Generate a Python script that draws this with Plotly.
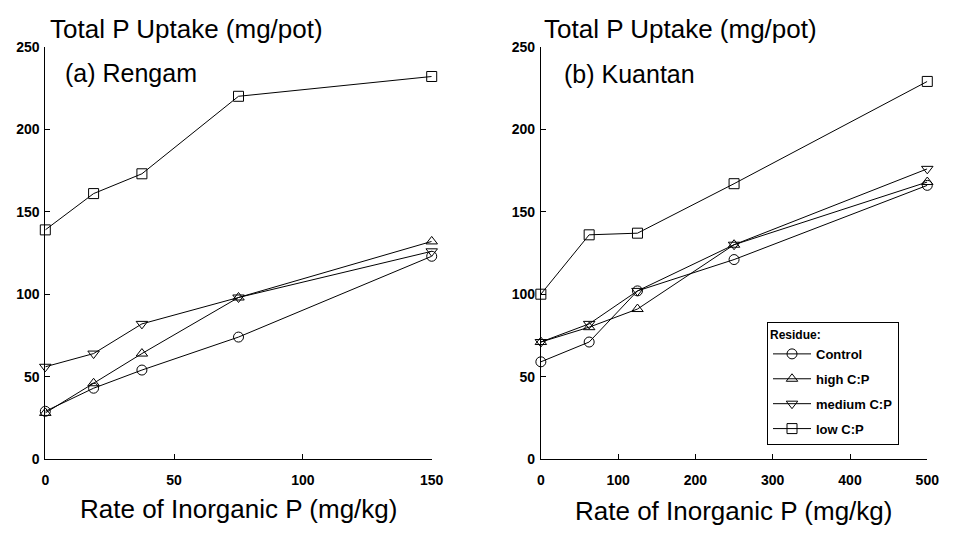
import plotly.graph_objects as go

# Data
series_names = ["Control", "high C:P", "medium C:P", "low C:P"]
symbols = ["circle-open", "triangle-up-open", "triangle-down-open", "square-open"]

rengam_x = [0, 18.75, 37.5, 75, 150]
rengam_control = [29, 43, 54, 74, 123]
rengam_high = [28, 46, 64, 98, 132]
rengam_medium = [56, 64, 82, 98, 126]
rengam_low = [139, 161, 173, 220, 232]

kuantan_x = [0, 62.5, 125, 250, 500]
kuantan_control = [59, 71, 102, 121, 166]
kuantan_high = [71, 80, 91, 130, 168]
kuantan_medium = [71, 82, 102, 130, 176]
kuantan_low = [100, 136, 137, 167, 229]

x_ticks_a = [0, 50, 100, 150]
x_ticks_b = [0, 100, 200, 300, 400, 500]
y_ticks = [0, 50, 100, 150, 200, 250]

FONT = "Liberation Sans, Arial, sans-serif"

fig = go.Figure()

rengam = [rengam_control, rengam_high, rengam_medium, rengam_low]
kuantan = [kuantan_control, kuantan_high, kuantan_medium, kuantan_low]

for name, sym, ys in zip(series_names, symbols, rengam):
    fig.add_trace(go.Scatter(
        x=rengam_x, y=ys, mode="lines+markers", name=name, legendgroup=name,
        line=dict(color="black", width=1),
        marker=dict(symbol=sym, size=10, color="black", line=dict(width=1)),
        showlegend=False, cliponaxis=False, xaxis="x", yaxis="y"))

for name, sym, ys in zip(series_names, symbols, kuantan):
    fig.add_trace(go.Scatter(
        x=kuantan_x, y=ys, mode="lines+markers", name=name, legendgroup=name,
        line=dict(color="black", width=1),
        marker=dict(symbol=sym, size=10, color="black", line=dict(width=1)),
        showlegend=True, cliponaxis=False, xaxis="x2", yaxis="y2"))

W, H = 956, 536
y_dom = [(H - 465) / H, (H - 40) / H]

axis_common = dict(
    showline=True, linecolor="black", linewidth=1, showgrid=False, zeroline=False,
    ticks="inside", ticklen=5, tickcolor="black", mirror=False,
    tickfont=dict(family=FONT, size=14, color="black", weight="bold"),
)

fig.update_layout(
    width=W, height=H,
    margin=dict(l=0, r=0, t=0, b=0),
    paper_bgcolor="white", plot_bgcolor="white",
    font=dict(family=FONT, color="black"),
    xaxis=dict(domain=[42 / W, 435 / W], range=[0, 150], tickvals=x_ticks_a,
               anchor="y", ticklabelstandoff=8, **axis_common),
    yaxis=dict(domain=y_dom, range=[0, 250], tickvals=y_ticks, anchor="x",
               ticklabelstandoff=2, **axis_common),
    xaxis2=dict(domain=[546 / W, 939 / W], range=[0, 500], tickvals=x_ticks_b,
                anchor="y2", ticklabelstandoff=8, **axis_common),
    yaxis2=dict(domain=y_dom, range=[0, 250], tickvals=y_ticks, anchor="x2",
                ticklabelstandoff=2, **axis_common),
    legend=dict(
        x=776 / W, y=(H - 324) / H, xanchor="left", yanchor="top",
        bordercolor="black", borderwidth=1, bgcolor="white",
        title=dict(text="Residue:", font=dict(family=FONT, size=12, weight="bold")),
        font=dict(family=FONT, size=13, weight="bold"),
        itemwidth=38, tracegroupgap=5, traceorder="grouped",
    ),
    showlegend=True,
)

ann_font = dict(family=FONT, size=26, color="black")
annotations = [
    dict(text="Total P Uptake (mg/pot)", x=45 / W, y=(H - 22) / H, xanchor="left", yanchor="middle"),
    dict(text="Total P Uptake (mg/pot)", x=547 / W, y=(H - 22) / H, xanchor="left", yanchor="middle"),
    dict(text="(a) Rengam", x=60 / W, y=(H - 67) / H, xanchor="left", yanchor="middle",
         font=dict(family=FONT, size=25, color="black")),
    dict(text="(b) Kuantan", x=568 / W, y=(H - 68) / H, xanchor="left", yanchor="middle",
         font=dict(family=FONT, size=25, color="black")),
    dict(text="Rate of Inorganic P (mg/kg)", x=238 / W, y=(H - 516) / H, xanchor="center", yanchor="middle"),
    dict(text="Rate of Inorganic P (mg/kg)", x=742 / W, y=(H - 518) / H, xanchor="center", yanchor="middle"),
]
for a in annotations:
    a.update(xref="paper", yref="paper", showarrow=False)
    a.setdefault("font", ann_font)
fig.update_layout(annotations=annotations)

fig.write_html("out.html")
